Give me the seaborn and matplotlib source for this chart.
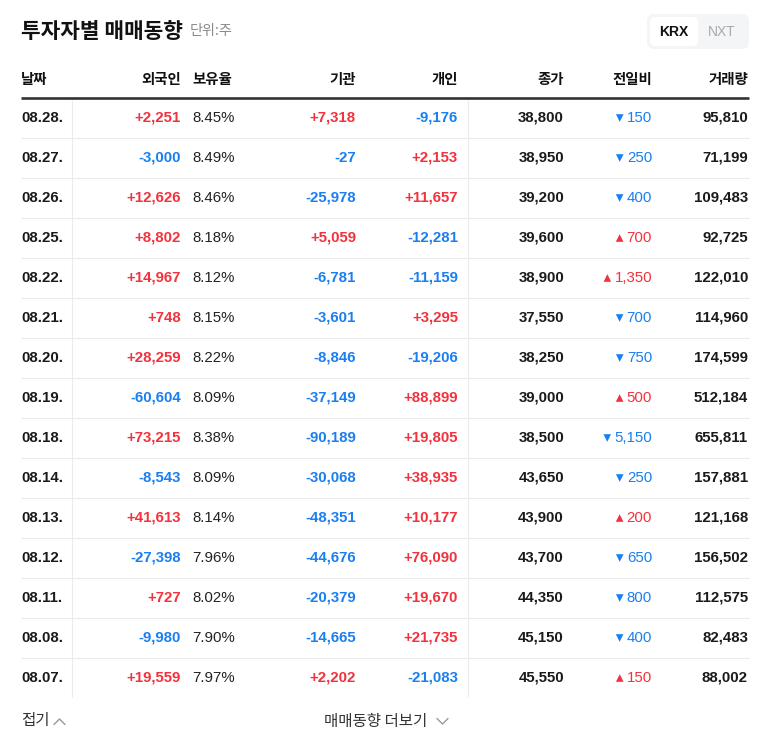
import numpy as np
import pandas as pd
import matplotlib
matplotlib.use("Agg")
import matplotlib.pyplot as plt
import seaborn as sns
from matplotlib.patches import FancyBboxPatch

# ---------------- data ----------------
title = "투자자별 매매동향"
unit_label = "단위:주"
headers = ["날짜", "외국인", "보유율", "기관", "개인", "종가", "전일비", "거래량"]
dates = ["08.28.", "08.27.", "08.26.", "08.25.", "08.22.", "08.21.", "08.20.", "08.19.",
         "08.18.", "08.14.", "08.13.", "08.12.", "08.11.", "08.08.", "08.07."]
foreign = [2251, -3000, 12626, 8802, 14967, 748, 28259, -60604, 73215, -8543, 41613,
           -27398, 727, -9980, 19559]
holding = [8.45, 8.49, 8.46, 8.18, 8.12, 8.15, 8.22, 8.09, 8.38, 8.09, 8.14, 7.96,
           8.02, 7.90, 7.97]
institution = [7318, -27, -25978, 5059, -6781, -3601, -8846, -37149, -90189, -30068,
               -48351, -44676, -20379, -14665, 2202]
individual = [-9176, 2153, 11657, -12281, -11159, 3295, -19206, 88899, 19805, 38935,
              10177, 76090, 19670, 21735, -21083]
close = [38800, 38950, 39200, 39600, 38900, 37550, 38250, 39000, 38500, 43650, 43900,
         43700, 44350, 45150, 45550]
change = [-150, -250, -400, 700, 1350, -700, -750, 500, -5150, -250, 200, -650, -800,
          -400, 150]
volume = [95810, 71199, 109483, 92725, 122010, 114960, 174599, 512184, 655811, 157881,
          121168, 156502, 112575, 82483, 88002]
markets = ["KRX", "NXT"]
footer_left = "접기"
footer_mid = "매매동향 더보기"

# ---------------- style ----------------
sns.set_theme(style="white")
plt.rcParams["font.family"] = ["Liberation Sans", "Noto Sans CJK KR", "DejaVu Sans"]
KR = ["Noto Sans CJK KR", "DejaVu Sans"]
NUM = ["Liberation Sans", "DejaVu Sans"]
RED = "#f2323d"
BLUE = "#1a7ff0"
DARK = "#1a1a1a"
GRID = "#ebebeb"

W, H = 768, 749
fig = plt.figure(figsize=(W / 100, H / 100), dpi=100)
ax = fig.add_axes([0, 0, 1, 1])
ax.set_xlim(0, W)
ax.set_ylim(H, 0)
ax.axis("off")

df = pd.DataFrame({"date": dates, "foreign": foreign, "holding": holding,
                   "inst": institution, "indiv": individual, "close": close,
                   "change": change, "volume": volume})
df["y"] = 118 + 40 * np.arange(len(df))

# title
ax.text(21, 31, title, family=KR, fontsize=15.4, fontweight="bold", color="#111",
        ha="left", va="center")
ax.text(190, 31, unit_label, family=KR, fontsize=10.2, color="#8a8a8a",
        ha="left", va="center")

# KRX / NXT toggle
ax.add_patch(FancyBboxPatch((647, 14), 102, 35, boxstyle="round,pad=0,rounding_size=7",
                            fc="#f4f5f7", ec="none"))
ax.add_patch(FancyBboxPatch((650, 17), 48, 29, boxstyle="round,pad=0,rounding_size=5",
                            fc="white", ec="none"))
ax.text(674, 32.5, markets[0], family=NUM, fontsize=10, fontweight="bold", color="#111",
        ha="center", va="center")
ax.text(722, 32.5, markets[1], family=NUM, fontsize=10, color="#a9a9a9",
        ha="center", va="center")

# header
hx = [21, 181, 192, 356, 458, 564, 652, 748]
ha = ["left", "right", "left", "right", "right", "right", "right", "right"]
for x, h, a in zip(hx, headers, ha):
    ax.text(x, 80, h, family=KR, fontsize=10.4, fontweight="bold", color="#111",
            ha=a, va="center")

# lines
ax.hlines(98, 21, 749, color="#333333", lw=1.9)
ax.hlines(df["y"].iloc[:-1] + 20, 21, 749, color=GRID, lw=0.8)
ax.vlines([72, 468], 99.5, 697, color=GRID, lw=0.8)


def signed(v):
    return f"{v:+,}" if v != 0 else "0"


def col(v):
    return RED if v > 0 else BLUE


FS = 10.8
change_texts = []
for _, r in df.iterrows():
    y = r["y"]
    ax.text(21, y, r["date"], family=NUM, fontsize=FS, fontweight="bold", color=DARK,
            ha="left", va="center")
    ax.text(181, y, signed(r["foreign"]), family=NUM, fontsize=FS, fontweight="bold",
            color=col(r["foreign"]), ha="right", va="center")
    ax.text(192, y, f"{r['holding']:.2f}%", family=NUM, fontsize=FS, color="#222",
            ha="left", va="center")
    ax.text(356, y, signed(r["inst"]), family=NUM, fontsize=FS, fontweight="bold",
            color=col(r["inst"]), ha="right", va="center")
    ax.text(458, y, signed(r["indiv"]), family=NUM, fontsize=FS, fontweight="bold",
            color=col(r["indiv"]), ha="right", va="center")
    ax.text(564, y, f"{r['close']:,}", family=NUM, fontsize=FS, fontweight="bold",
            color=DARK, ha="right", va="center")
    t = ax.text(652, y, f"{abs(r['change']):,}", family=NUM, fontsize=FS,
                color=col(r["change"]), ha="right", va="center")
    change_texts.append(t)
    ax.text(748, y, f"{r['volume']:,}", family=NUM, fontsize=FS, fontweight="bold",
            color=DARK, ha="right", va="center")

# triangles placed just left of the change text
fig.canvas.draw()
renderer = fig.canvas.get_renderer()
inv = ax.transData.inverted()
tri_x = []
for t in change_texts:
    bb = t.get_window_extent(renderer)
    x0 = inv.transform((bb.x0, bb.y0))[0]
    tri_x.append(x0 - 7)
df["tri_x"] = tri_x
df["dir"] = np.where(df["change"] > 0, "up", "down")
sns.scatterplot(data=df, x="tri_x", y="y", hue="dir", style="dir",
                markers={"up": "^", "down": "v"}, palette={"up": RED, "down": BLUE},
                s=30, linewidth=0, legend=False, ax=ax)
ax.set_xlim(0, W)
ax.set_ylim(H, 0)
ax.axis("off")

# footer
ax.text(21, 721, footer_left, family=KR, fontsize=11.2, color="#333", ha="left",
        va="center")
ax.plot([54, 59.5, 65], [724.5, 719, 724.5], color="#999", lw=1.0)
ax.text(324, 721, footer_mid, family=KR, fontsize=11.2, color="#333", ha="left",
        va="center")
ax.plot([437, 442.5, 448], [718.5, 724, 718.5], color="#999", lw=1.0)

fig.savefig("out.png", dpi=100)
